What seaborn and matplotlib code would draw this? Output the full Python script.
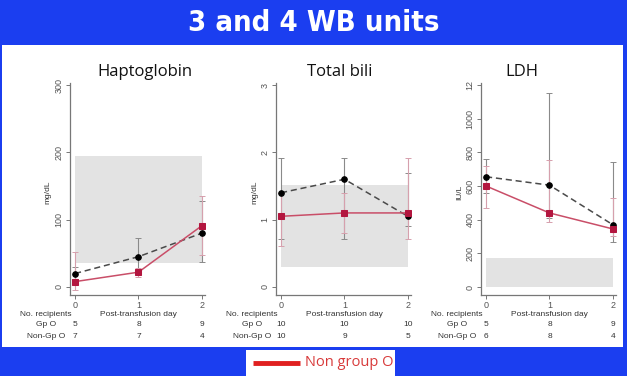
import matplotlib
matplotlib.use("Agg")
import matplotlib.pyplot as plt
import matplotlib.transforms as mtransforms
from matplotlib.patches import Rectangle
import seaborn as sns
import pandas as pd

sns.set_theme(style="white")
plt.rcParams['font.family'] = ['Liberation Sans Narrow', 'Liberation Sans', 'DejaVu Sans']

# ---------------- data ----------------
days = [0, 1, 2]
panel_titles = ["Haptoglobin", "Total bili", "LDH"]
units = ["mg/dL", "mg/dL", "IU/L"]
yticks_list = [[0, 100, 200, 300], [0, 1, 2, 3], [0, 200, 400, 600, 800, 1000, 1200]]
yticklabels_list = [["0", "100", "200", "300"], ["0", "1", "2", "3"],
                    ["0", "200", "400", "600", "800", "1000", "12"]]

hapto_gpO = [20, 45, 80]
hapto_gpO_lo = [12, 20, 37]
hapto_gpO_hi = [30, 73, 128]
hapto_non = [8, 22, 91]
hapto_non_lo = [-5, 15, 47]
hapto_non_hi = [52, 28, 135]
hapto_ref = (36, 195)

bili_gpO = [1.40, 1.60, 1.05]
bili_gpO_lo = [0.71, 0.71, 0.91]
bili_gpO_hi = [1.91, 1.91, 1.70]
bili_non = [1.05, 1.10, 1.10]
bili_non_lo = [0.61, 0.80, 0.71]
bili_non_hi = [1.40, 1.40, 1.91]
bili_ref = (0.30, 1.51)

ldh_gpO = [655, 605, 370]
ldh_gpO_lo = [560, 410, 265]
ldh_gpO_hi = [760, 1150, 742]
ldh_non = [600, 440, 345]
ldh_non_lo = [470, 385, 302]
ldh_non_hi = [720, 755, 531]
ldh_ref = (0, 174)

n_gpO = [[5, 8, 9], [10, 10, 10], [5, 8, 9]]
n_non = [[7, 7, 4], [10, 9, 5], [6, 8, 4]]

main_title = "3 and 4 WB units"
legend_label = "Non group O"

series = [
    (hapto_gpO, hapto_gpO_lo, hapto_gpO_hi, hapto_non, hapto_non_lo, hapto_non_hi, hapto_ref),
    (bili_gpO, bili_gpO_lo, bili_gpO_hi, bili_non, bili_non_lo, bili_non_hi, bili_ref),
    (ldh_gpO, ldh_gpO_lo, ldh_gpO_hi, ldh_non, ldh_non_lo, ldh_non_hi, ldh_ref),
]
ylims = [(-11.9, 303), (-0.119, 3.03), (-47.5, 1212)]

# ---------------- figure ----------------
W, H = 627, 376
BLUE = "#1b3ef0"
fig = plt.figure(figsize=(W / 100, H / 100), dpi=100)
fig.patch.set_facecolor(BLUE)

def fx(px):
    return px / W

def fy(py):
    return 1 - py / H

# white content panel
fig.patches.append(Rectangle((fx(2), fy(347)), fx(621), (347 - 45) / H,
                             transform=fig.transFigure, facecolor="white",
                             edgecolor="none", zorder=-2))
# legend box
fig.patches.append(Rectangle((fx(246), 0), fx(149), (376 - 350) / H,
                             transform=fig.transFigure, facecolor="white",
                             edgecolor="none", zorder=-2))

fig.text(0.5, fy(23), main_title, color="white", fontsize=21, fontweight="bold",
         fontstretch="condensed", ha="center", va="center",
         family=['DejaVu Sans'])

axes_left = [70, 276, 481]
title_x = [145, 340, 522]
ylabel_x = [48, 255, 460]
GREY = "#555555"
RED_LINE = "#c94e68"
RED_MARK = "#b3163f"

for i in range(3):
    gp, gplo, gphi, nn, nnlo, nnhi, ref = series[i]
    ax = fig.add_axes([fx(axes_left[i]), fy(295), fx(135), (295 - 83) / H])
    ax.set_zorder(1)
    ax.set_facecolor("none")
    ax.set_xlim(-0.08, 2.05)
    ax.set_ylim(*ylims[i])

    # reference range band
    ax.fill_between([0, 2], [ref[0]] * 2, [ref[1]] * 2, color="#e3e3e3", lw=0, zorder=1)

    # error bars
    ax.errorbar(days, gp, yerr=[[g - l for g, l in zip(gp, gplo)], [h - g for g, h in zip(gp, gphi)]],
                fmt="none", ecolor="#8a8a8a", elinewidth=0.8, capsize=2, capthick=0.7, zorder=2)
    ax.errorbar(days, nn, yerr=[[g - l for g, l in zip(nn, nnlo)], [h - g for g, h in zip(nn, nnhi)]],
                fmt="none", ecolor="#d6a0ad", elinewidth=0.8, capsize=2, capthick=0.7, zorder=2)

    df_g = pd.DataFrame({"day": days, "val": gp})
    df_n = pd.DataFrame({"day": days, "val": nn})
    sns.lineplot(data=df_g, x="day", y="val", ax=ax, color="#4a4a4a", linestyle=(0, (4, 2.5)),
                 lw=1.1, marker="o", markersize=4, markerfacecolor="black",
                 markeredgecolor="black", zorder=3)
    sns.lineplot(data=df_n, x="day", y="val", ax=ax, color=RED_LINE, lw=1.1,
                 marker="s", markersize=4, markerfacecolor=RED_MARK,
                 markeredgecolor=RED_MARK, zorder=4)

    # axes styling
    for s in ["top", "right"]:
        ax.spines[s].set_visible(False)
    for s in ["left", "bottom"]:
        ax.spines[s].set_color("#777777")
        ax.spines[s].set_linewidth(0.9)
    ax.set_xticks(days)
    ax.set_xticklabels([str(d) for d in days])
    ax.set_yticks(yticks_list[i])
    ax.set_yticklabels(yticklabels_list[i])
    ax.tick_params(axis="both", which="major", length=3, width=0.7, color="#777777",
                   labelsize=6.5, labelcolor=GREY, pad=1.5, left=True, bottom=True)
    for lab in ax.get_yticklabels():
        lab.set_rotation(90)
        lab.set_va("center")
    ax.set_xlabel("")
    ax.set_ylabel("")

    # panel title and unit label
    fig.text(fx(title_x[i]), fy(72), panel_titles[i], fontsize=12, color="#111111",
             ha="center", va="center", family=["Open Sans", "DejaVu Sans"])
    fig.text(fx(ylabel_x[i]), fy(192), units[i], fontsize=6, color="#333333",
             ha="center", va="center", rotation=90)

    # number-at-risk table
    tr = mtransforms.blended_transform_factory(ax.transData, fig.transFigure)
    lab_x = -0.46
    ax.text(lab_x, fy(315), "No. recipients", transform=tr, fontsize=6, color="#333333",
            ha="center", va="center", clip_on=False)
    ax.text(1, fy(315), "Post-transfusion day", transform=tr, fontsize=6, color="#333333",
            ha="center", va="center", clip_on=False)
    ax.text(lab_x, fy(325), "Gp O", transform=tr, fontsize=6, color="#333333",
            ha="center", va="center", clip_on=False)
    ax.text(lab_x, fy(336), "Non-Gp O", transform=tr, fontsize=6, color="#333333",
            ha="center", va="center", clip_on=False)
    for d, a, b in zip(days, n_gpO[i], n_non[i]):
        ax.text(d, fy(325), str(a), transform=tr, fontsize=6, color="#333333",
                ha="center", va="center", clip_on=False)
        ax.text(d, fy(336), str(b), transform=tr, fontsize=6, color="#333333",
                ha="center", va="center", clip_on=False)

# legend
fig.add_artist(plt.Line2D([fx(253), fx(300)], [fy(363), fy(363)], transform=fig.transFigure,
                          color="#e02020", lw=3.5, solid_capstyle="butt"))
fig.text(fx(305), fy(363), legend_label, color="#d83a3a", fontsize=10.5, ha="left",
         va="center", family=["Open Sans", "DejaVu Sans"])

fig.savefig("out.png", dpi=100, facecolor=fig.get_facecolor())
